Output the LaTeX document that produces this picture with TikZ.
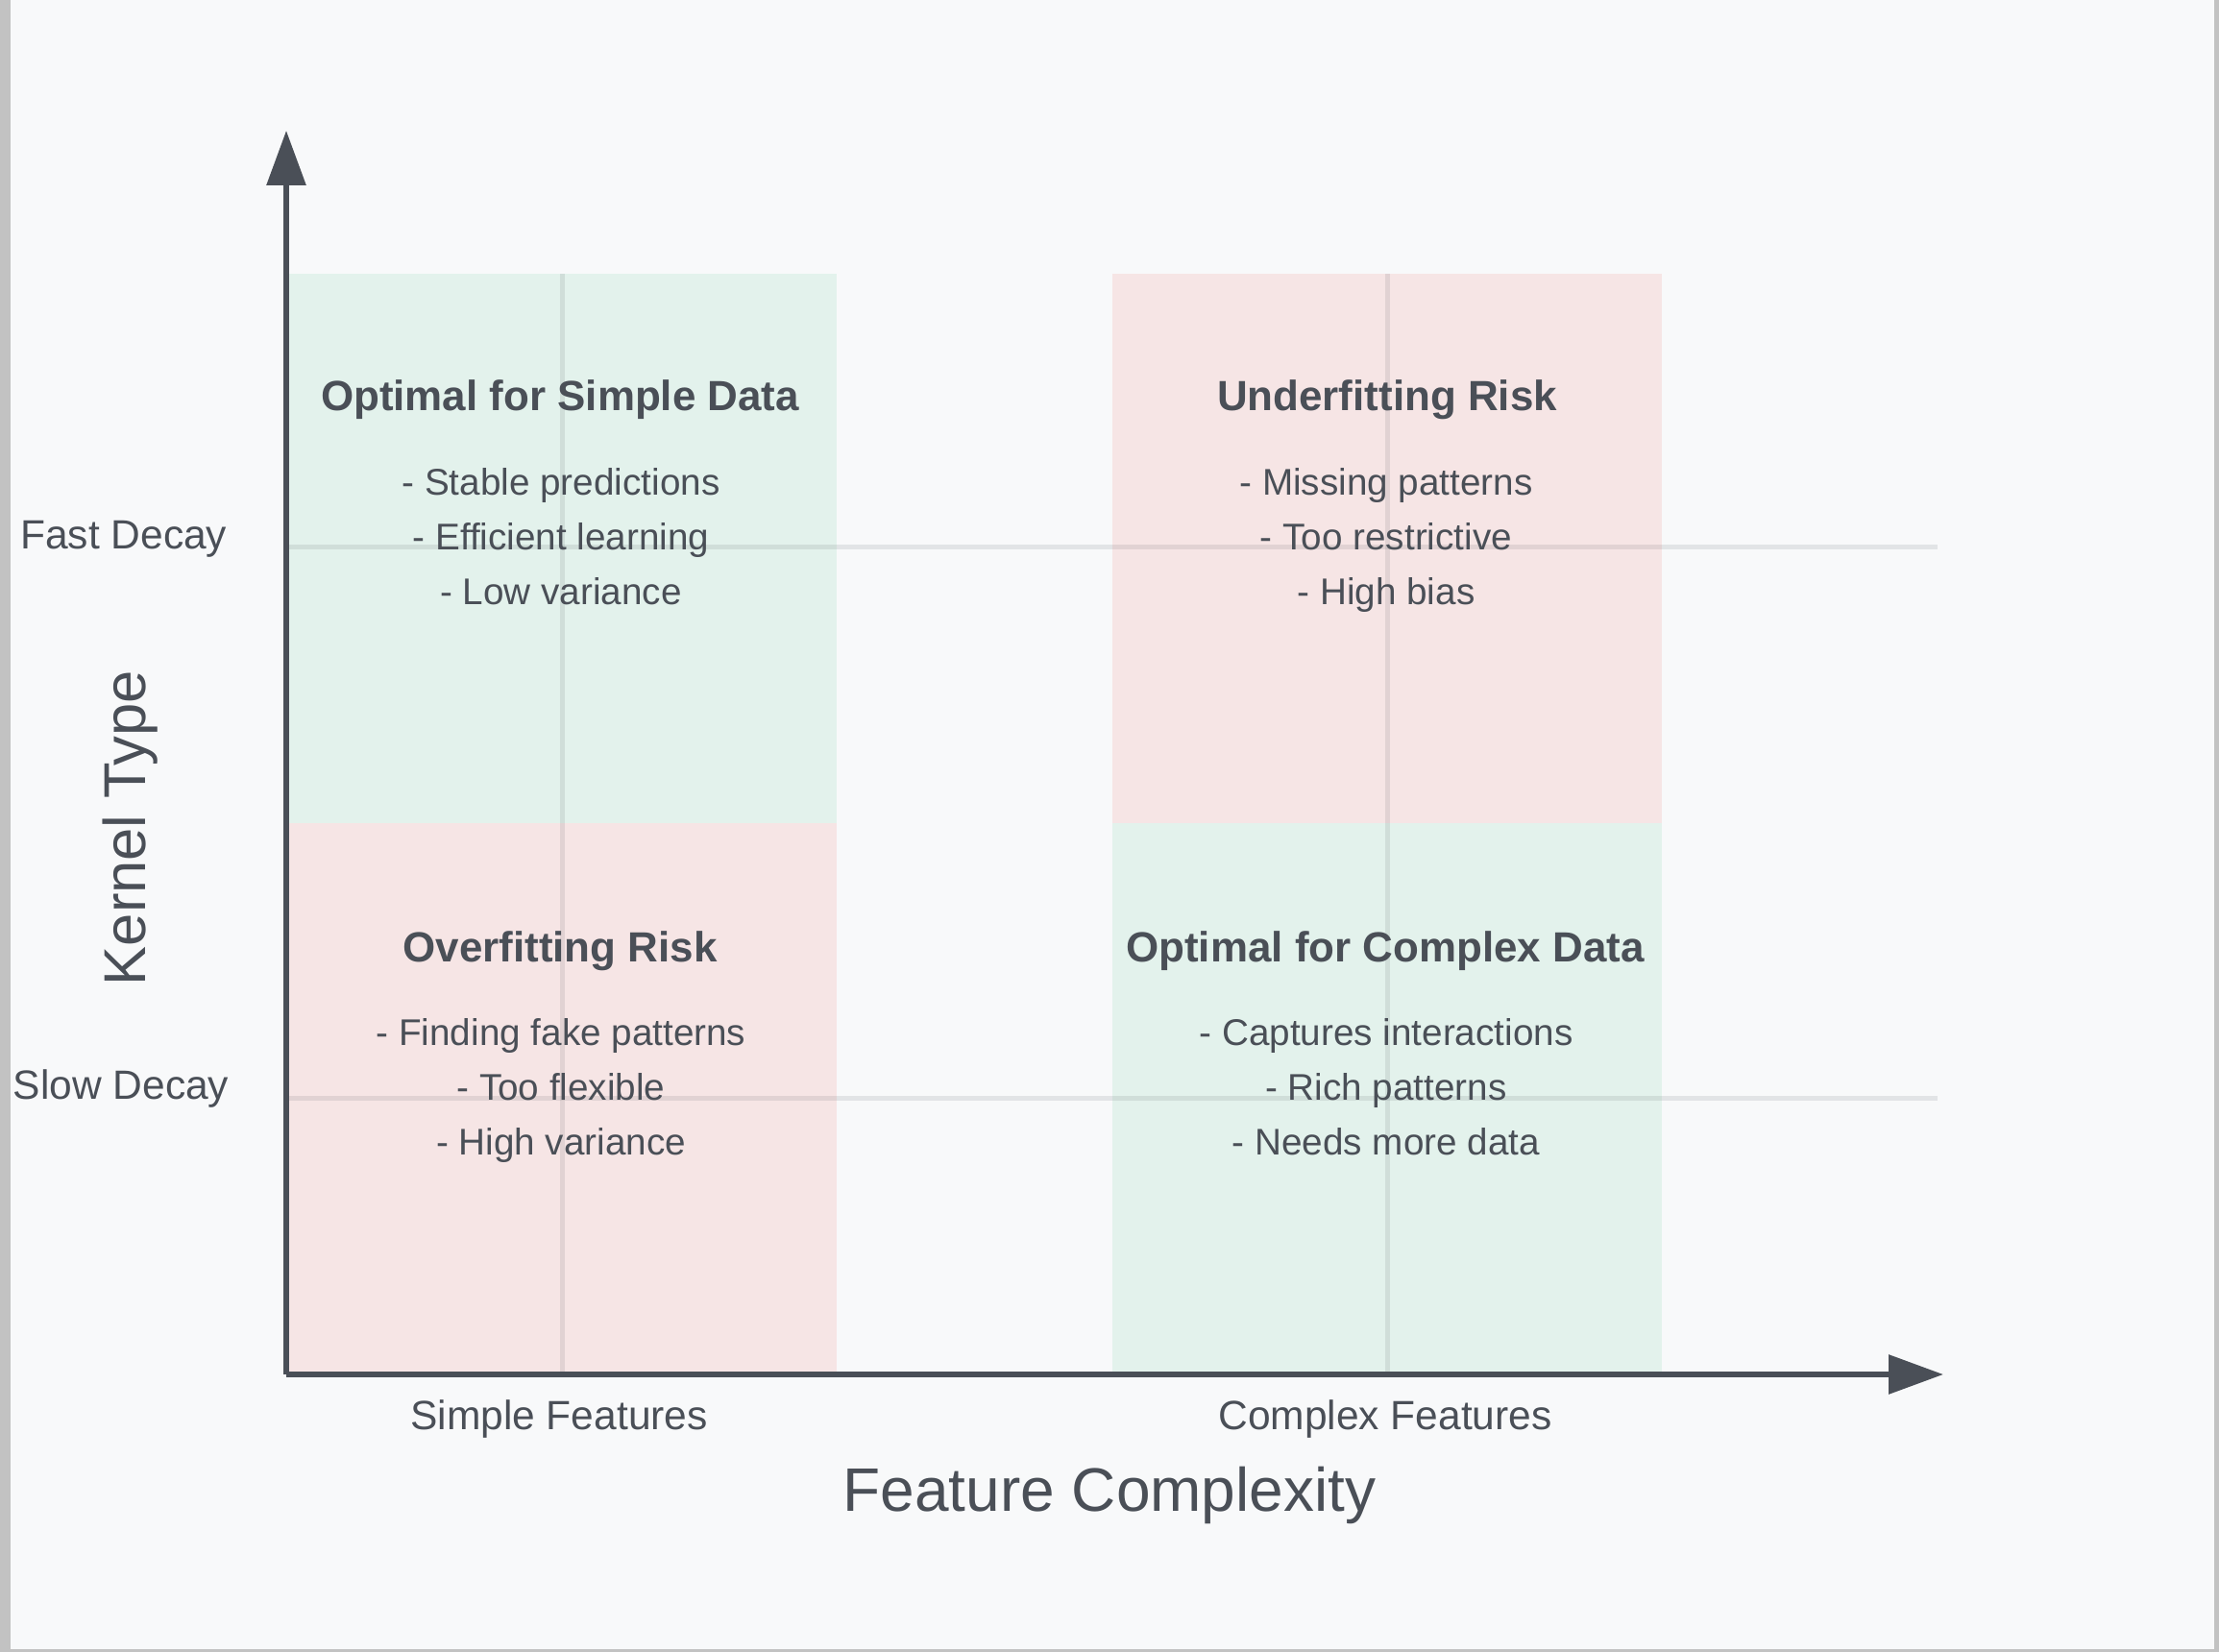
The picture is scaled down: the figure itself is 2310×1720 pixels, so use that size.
\documentclass[tikz,border=0pt]{standalone}
\usepackage{fontspec}
\setmainfont{Liberation Sans}
\usepackage{tikz}
\usetikzlibrary{arrows.meta, positioning}
\definecolor{kmInk}{HTML}{4A4F57}
\definecolor{kmPaper}{HTML}{F8F9FA}
\definecolor{kmEdge}{HTML}{C2C2C2}
\definecolor{kmGood}{HTML}{E3F2EC}
\definecolor{kmRisk}{HTML}{F6E5E5}

\begin{document}
\begin{tikzpicture}[
  x=0.1mm, y=-0.1mm,
  axis/.style={-{Triangle[length=5.7mm,width=4mm]}, line width=0.6mm, draw=kmInk},
  gridline/.style={line width=0.5mm, draw=kmInk, draw opacity=0.12},
  quadtitle/.style={text=kmInk, inner sep=0pt, font=\fontsize{12.5}{15}\selectfont\bfseries},
  quadlist/.style={text=kmInk, inner sep=0pt, align=center, font=\fontsize{11}{16.35}\selectfont},
  ticklabel/.style={text=kmInk, inner sep=0pt, font=\fontsize{12.1}{14}\selectfont},
  axislabel/.style={text=kmInk, inner sep=0pt, font=\fontsize{18.2}{22}\selectfont}
]

% page and frame
\useasboundingbox (0,0) rectangle (2310,1720);
\fill[kmPaper] (0,0) rectangle (2310,1720);
\fill[kmEdge] (0,0) rectangle (11,1720);
\fill[kmEdge] (2305,0) rectangle (2310,1720);
\fill[kmEdge] (0,1717) rectangle (2310,1720);

% quadrants
\fill[kmGood] (298,285) rectangle (871,857);
\fill[kmRisk] (1158,285) rectangle (1730,857);
\fill[kmRisk] (298,857) rectangle (871,1430);
\fill[kmGood] (1158,857) rectangle (1730,1430);

% grid
\coordinate (origin) at (298,1431);
\coordinate (ytip) at (298,136);
\coordinate (xtip) at (2023,1431);
\coordinate (fastL) at (298,570);
\coordinate (fastR) at (2017,570);
\coordinate (slowL) at (298,1143);
\coordinate (slowR) at (2017,1143);
\coordinate (simpleT) at (585,285);
\coordinate (simpleB) at (585,1429);
\coordinate (complexT) at (1444,285);
\coordinate (complexB) at (1444,1429);
\draw[gridline] (fastL) -- (fastR);
\draw[gridline] (slowL) -- (slowR);
\draw[gridline] (simpleT) -- (simpleB);
\draw[gridline] (complexT) -- (complexB);

% axes
\draw[axis] (origin) -- (ytip);
\draw[axis] (origin) -- (xtip);

% quadrant texts
\node[quadtitle] (tlT) at (583,416) {Optimal for Simple Data};
\node[quadlist] (tlL) at (584,561) {\strut- Stable predictions\\- Efficient learning\\- Low variance\strut};
\node[quadtitle] (trT) at (1444,416) {Underfitting Risk};
\node[quadlist] (trL) at (1443,561) {\strut- Missing patterns\\- Too restrictive\\- High bias\strut};
\node[quadtitle] (blT) at (583,990) {Overfitting Risk};
\node[quadlist] (blL) at (584,1134) {\strut- Finding fake patterns\\- Too flexible\\- High variance\strut};
\node[quadtitle] (brT) at (1442,990) {Optimal for Complex Data};
\node[quadlist] (brL) at (1443,1134) {\strut- Captures interactions\\- Rich patterns\\- Needs more data\strut};

% axis labels
\node[ticklabel, anchor=east] (fast) at (237,561) {Fast Decay};
\node[ticklabel, anchor=east] (slow) at (239,1134) {Slow Decay};
\node[ticklabel] (simple) at (582,1478) {Simple Features};
\node[ticklabel] (complex) at (1442,1478) {Complex Features};
\node[axislabel] (xname) at (1155,1557) {Feature Complexity};
\node[axislabel, rotate=90, font=\fontsize{17.5}{21}\selectfont] (yname) at (136,862) {Kernel Type};
\end{tikzpicture}
\end{document}
